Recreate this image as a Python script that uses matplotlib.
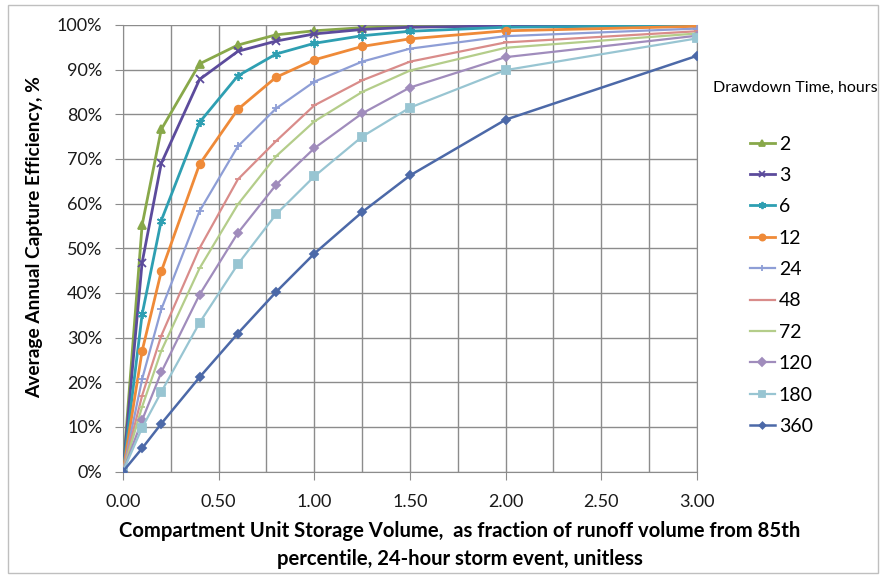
import numpy as np
import matplotlib
matplotlib.use("Agg")
import matplotlib.pyplot as plt
from matplotlib.patches import Rectangle
from matplotlib.ticker import MultipleLocator, PercentFormatter

plt.rcParams['font.family'] = ['Lato', 'DejaVu Sans']

# storage volume (fraction of 85th percentile runoff volume)
x = [0, 0.1, 0.2, 0.4, 0.6, 0.8, 1.0, 1.25, 1.5, 2.0, 3.0]

# capture efficiency (%) by drawdown time
hours = ['2', '3', '6', '12', '24', '48', '72', '120', '180', '360']
eff_2 = [0, 55.2, 76.6, 91.3, 95.5, 97.8, 98.7, 99.4, 99.6, 99.9, 100]
eff_3 = [0, 46.8, 69.0, 87.8, 94.1, 96.4, 98.0, 99.0, 99.5, 99.8, 100]
eff_6 = [0, 35.2, 56.2, 78.2, 88.6, 93.5, 95.9, 97.6, 98.6, 99.5, 99.9]
eff_12 = [0, 27.0, 44.8, 68.8, 81.1, 88.3, 92.2, 95.2, 96.9, 98.7, 99.7]
eff_24 = [0, 20.7, 36.3, 58.3, 72.8, 81.3, 87.3, 91.8, 94.7, 97.5, 99.2]
eff_48 = [0, 17.0, 30.4, 50.0, 65.4, 74.0, 82.0, 87.6, 91.8, 96.1, 98.6]
eff_72 = [0, 14.5, 27.0, 45.5, 59.8, 70.6, 78.4, 85.0, 89.8, 94.9, 98.1]
eff_120 = [0, 11.5, 22.2, 39.6, 53.4, 64.2, 72.4, 80.2, 86.0, 92.8, 97.6]
eff_180 = [0, 9.8, 17.8, 33.3, 46.4, 57.6, 66.1, 75.0, 81.5, 89.9, 97.0]
eff_360 = [0, 5.2, 10.7, 21.1, 30.9, 40.2, 48.8, 58.1, 66.3, 78.8, 93.1]
series = [eff_2, eff_3, eff_6, eff_12, eff_24, eff_48, eff_72, eff_120, eff_180, eff_360]

colors = ['#88A84A', '#5C4B9C', '#2E9FB2', '#EF8A38', '#8E9ED6',
          '#D98C8A', '#B4CD8A', '#A08CBC', '#98C5D2', '#4C69A8']
markers = ['^', 'x', (6, 2, 0), 'o', '+', '_', '_', 'D', 's', 'D']
msizes = [5.5, 5.5, 6.5, 5.5, 5.5, 5, 5, 4.5, 5.5, 4]
lws = [2, 2, 2, 2, 1.6, 1.6, 1.6, 1.6, 1.6, 1.8]

fig = plt.figure(figsize=(8.81, 5.76), dpi=100)
ax = fig.add_axes([0.1396, 0.1814, 0.6515, 0.7752])

for lab, y, c, m, ms, lw in zip(hours, series, colors, markers, msizes, lws):
    ax.plot(x, np.array(y) / 100, color=c, marker=m, markersize=ms, lw=lw,
            markeredgewidth=1.3, label=lab, zorder=3)

ax.set_xlim(0, 3)
ax.set_ylim(0, 1)
ax.xaxis.set_major_locator(MultipleLocator(0.5))
ax.xaxis.set_minor_locator(MultipleLocator(0.25))
ax.yaxis.set_major_locator(MultipleLocator(0.1))
ax.yaxis.set_major_formatter(PercentFormatter(1.0, decimals=0))
ax.xaxis.set_major_formatter(lambda v, p: f'{v:.2f}')
ax.grid(True, which='both', color='#8C8C8C', lw=1)
ax.tick_params(axis='both', which='major', length=6, color='#8C8C8C',
               labelsize=13, labelcolor='#1A1A1A')
ax.tick_params(axis='y', pad=9)
ax.tick_params(axis='x', pad=10)
ax.tick_params(axis='x', which='minor', length=0)
for s in ['left', 'bottom', 'right', 'top']:
    ax.spines[s].set_color('#8C8C8C')
ax.spines['top'].set_visible(False)

fig.text(35 / 881, 1 - 237 / 576, 'Average Annual Capture Efficiency, %',
         rotation=90, ha='center', va='center', fontsize=13.75, fontweight='bold')
fig.text(460 / 881, 1 - 545 / 576,
         'Compartment Unit Storage Volume,  as fraction of runoff volume from 85th\n'
         'percentile, 24-hour storm event, unitless',
         ha='center', va='center', fontsize=14.6, fontweight='bold',
         multialignment='center', linespacing=1.55)

fig.text(795 / 881, 1 - 88 / 576, 'Drawdown Time, hours', ha='center', va='center',
         fontsize=11.5)
fig.legend(loc='upper left', bbox_to_anchor=(732 / 881, 1 - 118 / 576),
           frameon=False, fontsize=14, handlelength=1.3, handletextpad=0.2,
           labelspacing=0.74, markerscale=0.8)

fig.add_artist(Rectangle((8 / 881, 3 / 576), 870 / 881, 568 / 576,
                         transform=fig.transFigure, fill=False,
                         edgecolor='#BFBFBF', lw=1))

fig.savefig('out.png', dpi=100)
